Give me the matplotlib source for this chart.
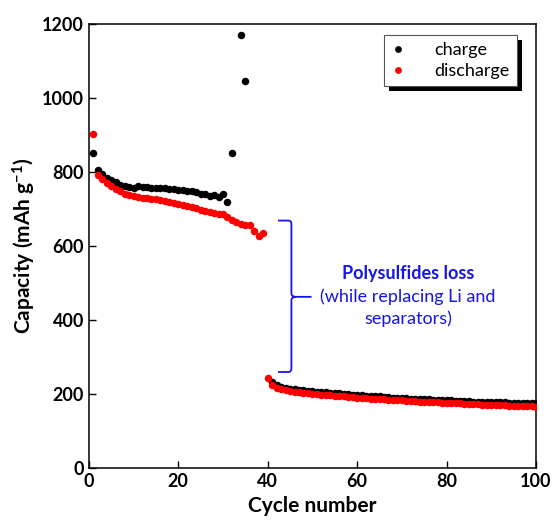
import matplotlib
matplotlib.use("Agg")
import matplotlib.pyplot as plt
from matplotlib.path import Path
from matplotlib.patches import PathPatch, Rectangle

# ── Data ──
charge_cycles = list(range(1, 33)) + [34, 35] + list(range(41, 101))
charge_cap = [
    852, 805, 795, 785, 778, 772, 766, 762, 760, 758,
    762, 760, 759, 758, 757, 756, 756, 754, 753, 752,
    752, 750, 748, 746, 742, 740, 736, 738, 734, 740,
    720, 851,
    1170, 1046,
    232, 224, 220, 217, 215, 213, 212, 211, 209, 208,
    207, 206, 205, 204, 203, 202, 201, 200, 199, 198,
    197, 196, 195, 194, 194, 193, 192, 191, 190, 190,
    189, 188, 188, 187, 186, 186, 185, 185, 184, 183,
    183, 182, 182, 181, 181, 180, 180, 179, 179, 179,
    178, 178, 178, 177, 177, 177, 176, 176, 176, 175,
]

discharge_cycles = list(range(1, 101))
discharge_cap = [
    903, 792, 780, 770, 762, 754, 748, 742, 738, 735,
    733, 731, 729, 728, 726, 724, 722, 719, 717, 714,
    712, 709, 706, 702, 698, 695, 692, 690, 686, 688,
    680, 670, 664, 660, 656, 658, 640, 626, 636,
    245,
    226, 218, 214, 211, 209, 207, 205, 204, 202, 201,
    200, 199, 198, 197, 196, 195, 194, 193, 192, 191,
    190, 189, 188, 187, 186, 186, 185, 184, 183, 183,
    182, 181, 181, 180, 179, 179, 178, 178, 177, 176,
    176, 175, 175, 174, 174, 173, 173, 172, 172, 171,
    171, 170, 170, 169, 169, 168, 168, 167, 167, 166,
]

x_ticks = [0, 20, 40, 60, 80, 100]
y_ticks = [0, 200, 400, 600, 800, 1000, 1200]

BLUE = "#1515e6"

plt.rcParams["font.family"] = ["Lato", "DejaVu Sans"]
plt.rcParams["mathtext.fontset"] = "custom"
plt.rcParams["mathtext.rm"] = "Lato:bold"
plt.rcParams["mathtext.default"] = "rm"

fig = plt.figure(figsize=(5.52, 5.22), dpi=100)
ax = fig.add_axes([0.161, 0.103, 0.810, 0.851])

ax.plot(charge_cycles, charge_cap, "o", color="black", ms=5.4, mew=0,
        label="charge", zorder=3)
ax.plot(discharge_cycles, discharge_cap, "o", color="red", ms=5.4, mew=0,
        label="discharge", zorder=4)

ax.set_xlim(0, 100)
ax.set_ylim(0, 1200)
ax.set_xticks(x_ticks)
ax.set_yticks(y_ticks)
ax.tick_params(direction="in", length=5, width=1, labelsize=13)
for lbl in ax.get_xticklabels() + ax.get_yticklabels():
    lbl.set_fontweight("bold")
for sp in ax.spines.values():
    sp.set_linewidth(1.1)

ax.set_xlabel("Cycle number", fontsize=15, fontweight="bold", labelpad=4)
ax.set_ylabel("Capacity (mAh g$^{-1}$)", fontsize=15, fontweight="bold",
              labelpad=3)

# ── Brace + annotation ──
verts = [(42.3, 669), (44.6, 669), (45.3, 669), (45.3, 659),
         (45.3, 473), (45.3, 463), (46.3, 463), (49.8, 463),
         (46.3, 463), (45.3, 463), (45.3, 453),
         (45.3, 270), (45.3, 260), (44.6, 260), (42.3, 260)]
codes = [Path.MOVETO, Path.LINETO, Path.CURVE3, Path.CURVE3,
         Path.LINETO, Path.CURVE3, Path.CURVE3, Path.LINETO,
         Path.MOVETO, Path.CURVE3, Path.CURVE3,
         Path.LINETO, Path.CURVE3, Path.CURVE3, Path.LINETO]
ax.add_patch(PathPatch(Path(verts, codes), fill=False, edgecolor=BLUE,
                       lw=1.3, zorder=5))

ax.text(71.4, 527, "Polysulfides loss", color=BLUE, fontsize=13,
        fontweight="bold", ha="center", va="center")
ax.text(71.4, 462, "(while replacing Li and", color=BLUE, fontsize=13,
        ha="center", va="center")
ax.text(71.4, 405, "separators)", color=BLUE, fontsize=13,
        ha="center", va="center")

# ── Legend with solid black drop shadow ──
leg = ax.legend(loc="upper right", bbox_to_anchor=(0.957, 0.975),
                fontsize=13, frameon=True, fancybox=False, framealpha=1,
                handlelength=0.8, handletextpad=1.6, borderpad=0.4,
                labelspacing=0.25, markerscale=0.9, borderaxespad=0)
leg.get_frame().set_edgecolor("#555555")
leg.get_frame().set_facecolor("white")
leg.get_frame().set_linewidth(0.8)
leg.set_zorder(10)

fig.canvas.draw()
bb = leg.get_window_extent().transformed(ax.transAxes.inverted())
dx = 5 / (ax.bbox.width)
dy = 5 / (ax.bbox.height)
ax.add_patch(Rectangle((bb.x0 + dx, bb.y0 - dy), bb.width, bb.height,
                       transform=ax.transAxes, facecolor="black",
                       edgecolor="none", zorder=9, clip_on=False))

fig.savefig("out.png", dpi=100)
